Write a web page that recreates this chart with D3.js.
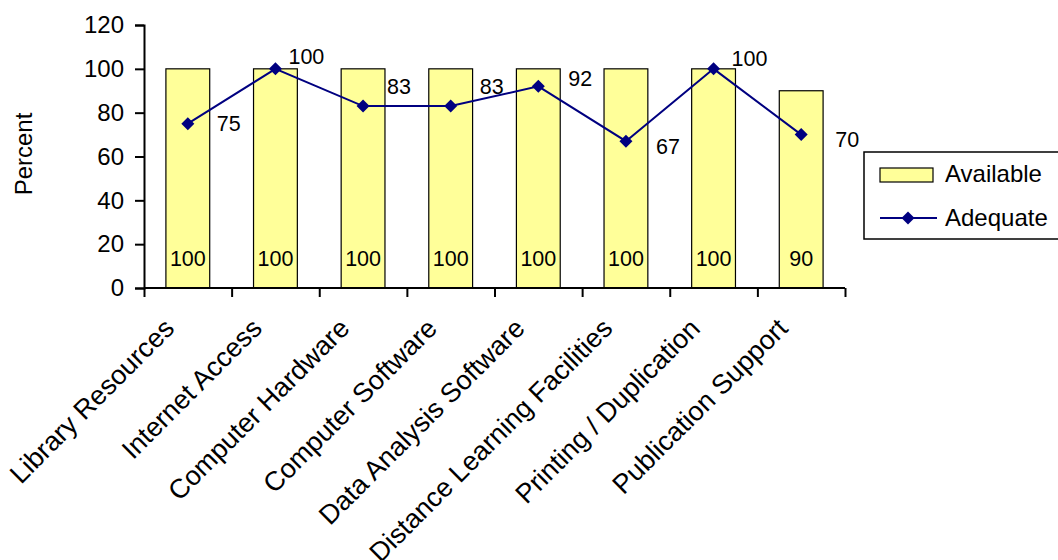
<!DOCTYPE html>
<html>
<head>
<meta charset="utf-8">
<script src="https://cdn.jsdelivr.net/npm/d3@7"></script>
<style>
  html, body { margin: 0; padding: 0; background: #fff; }
  svg { display: block; font-family: Arial, "Liberation Sans", sans-serif; }
</style>
</head>
<body>
<svg id="chart" width="1058" height="560"></svg>
<script>
// Support resources: share of programs where each is available vs. adequate
const categories = [
  "Library Resources", "Internet Access", "Computer Hardware", "Computer Software",
  "Data Analysis Software", "Distance Learning Facilities", "Printing / Duplication",
  "Publication Support"
];
const available = [100, 100, 100, 100, 100, 100, 100, 90];
const adequate = [75, 100, 83, 83, 92, 67, 100, 70];
const yTicks = [0, 20, 40, 60, 80, 100, 120];
const seriesNames = ["Available", "Adequate"];

// Nudges for the "Adequate" value labels, relative to each marker
const adequateLabelShift = [[29, 0], [13, -12], [24, -20], [29, -20], [30, -8], [30, 5], [18, -10], [34, 5]];

const barFill = "#FFFF99";
const lineColor = "#000080";

const svg = d3.select("#chart");
const plotLeft = 144, plotRight = 845, plotTop = 25, plotBottom = 288;

const x = d3.scaleBand().domain(categories).range([plotLeft, plotRight])
  .paddingInner(0.5).paddingOuter(0.25);
const y = d3.scaleLinear().domain([0, 120]).range([plotBottom, plotTop]);
const cx = d => x(d) + x.bandwidth() / 2;

// Bars
svg.append("g").selectAll("rect").data(categories).join("rect")
  .attr("x", d => x(d))
  .attr("y", (d, i) => y(available[i]))
  .attr("width", x.bandwidth())
  .attr("height", (d, i) => y(0) - y(available[i]))
  .attr("fill", barFill)
  .attr("stroke", "#000")
  .attr("stroke-width", 1.2);

// Bar value labels near the base
svg.append("g").selectAll("text").data(categories).join("text")
  .attr("x", d => cx(d))
  .attr("y", plotBottom - 22)
  .attr("text-anchor", "middle")
  .attr("font-size", 21.5)
  .text((d, i) => available[i]);

// Y axis
const yAxis = svg.append("g")
  .attr("transform", `translate(${plotLeft},0)`)
  .call(d3.axisLeft(y).tickValues(yTicks).tickSize(9).tickPadding(11));
yAxis.selectAll("text").attr("font-size", 24).attr("fill", "#000").attr("font-family", "Arial, 'Liberation Sans', sans-serif");
yAxis.selectAll("line, path").attr("stroke", "#000").attr("stroke-width", 2);

// X axis: ticks at category boundaries
const edge = d3.scaleLinear().domain([0, categories.length]).range([plotLeft, plotRight]);
const xAxis = svg.append("g")
  .attr("transform", `translate(0,${plotBottom})`)
  .call(d3.axisBottom(edge).tickValues(d3.range(categories.length + 1)).tickSize(9).tickFormat(""));
xAxis.select("path").attr("d", `M${plotLeft},0H${plotRight}`);
xAxis.selectAll("line, path").attr("stroke", "#000").attr("stroke-width", 2);

// Category labels, rotated
svg.append("g").selectAll("text").data(categories).join("text")
  .attr("transform", d => `translate(${cx(d) - 12},330) rotate(-45)`)
  .attr("text-anchor", "end")
  .attr("font-size", 27)
  .text(d => d);

// Y title
svg.append("text")
  .attr("transform", "translate(32,154) rotate(-90)")
  .attr("text-anchor", "middle")
  .attr("font-size", 24)
  .text("Percent");

// Adequate line with diamond markers
const diamond = "M0,-6.5L6.5,0L0,6.5L-6.5,0Z";
svg.append("path")
  .datum(categories)
  .attr("fill", "none")
  .attr("stroke", lineColor)
  .attr("stroke-width", 2)
  .attr("d", d3.line().x(d => cx(d)).y((d, i) => y(adequate[i])));
svg.append("g").selectAll("path").data(categories).join("path")
  .attr("transform", (d, i) => `translate(${cx(d)},${y(adequate[i])})`)
  .attr("d", diamond)
  .attr("fill", lineColor);
svg.append("g").selectAll("text").data(categories).join("text")
  .attr("x", (d, i) => cx(d) + adequateLabelShift[i][0])
  .attr("y", (d, i) => y(adequate[i]) + adequateLabelShift[i][1])
  .attr("dy", "0.35em")
  .attr("font-size", 21.5)
  .text((d, i) => adequate[i]);

// Legend
const lg = svg.append("g");
lg.append("rect").attr("x", 864).attr("y", 152).attr("width", 220).attr("height", 87)
  .attr("fill", "#fff").attr("stroke", "#000").attr("stroke-width", 1.5);
lg.append("rect").attr("x", 880).attr("y", 168).attr("width", 53).attr("height", 14)
  .attr("fill", barFill).attr("stroke", "#000").attr("stroke-width", 1.2);
lg.append("line").attr("x1", 880).attr("x2", 937).attr("y1", 218).attr("y2", 218)
  .attr("stroke", lineColor).attr("stroke-width", 2);
lg.append("path").attr("transform", "translate(908,218)").attr("d", diamond).attr("fill", lineColor);
lg.selectAll("text.name").data(seriesNames).join("text")
  .attr("class", "name")
  .attr("x", 945)
  .attr("y", (d, i) => 182 + i * 44)
  .attr("font-size", 24)
  .text(d => d);
</script>
</body>
</html>
